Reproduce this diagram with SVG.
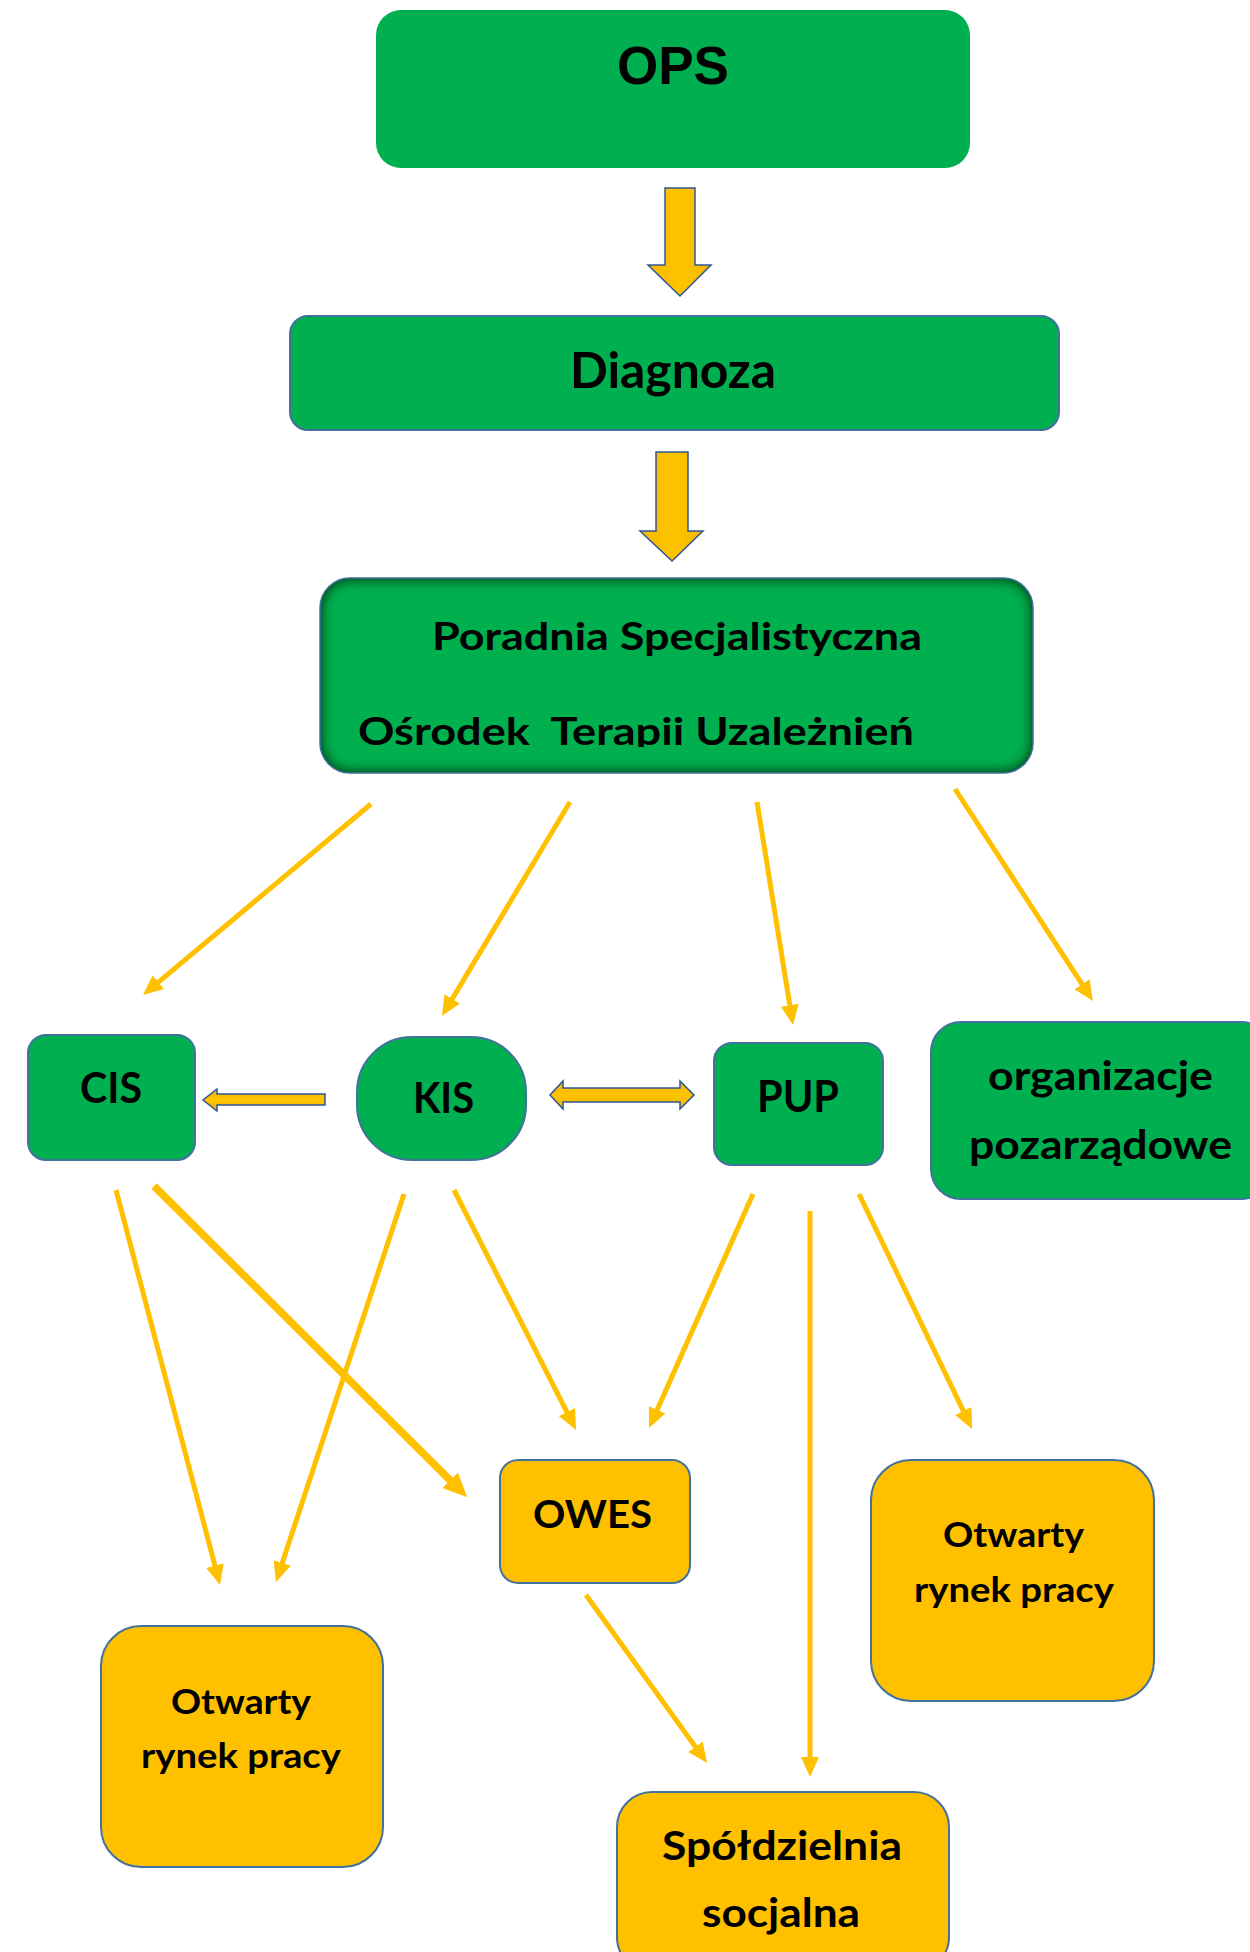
<svg xmlns="http://www.w3.org/2000/svg" width="1250" height="1952" viewBox="0 0 1250 1952">
  <style>
    .g { fill: #00B050; stroke: #41719C; stroke-width: 2; }
    .y { fill: #FFC000; stroke: #41719C; stroke-width: 2; }
    .t { font-family: Lato, "Open Sans", "Liberation Sans", sans-serif; font-weight: bold; fill: #000000; }
    .c { fill: none; stroke: #FFC000; stroke-width: 5; }
    .ct { fill: none; stroke: #FFC000; stroke-width: 7.5; }
    .ba { fill: url(#baGrad); stroke: #2F5597; stroke-width: 1.5; stroke-linejoin: miter; }
    .bah { fill: url(#baGradH); stroke: #2F5597; stroke-width: 1.5; stroke-linejoin: miter; }
  </style>
  <defs>
    <linearGradient id="baGrad" x1="0" y1="0" x2="1" y2="0">
      <stop offset="0" stop-color="#F5B800"/>
      <stop offset="0.5" stop-color="#FFC400"/>
      <stop offset="1" stop-color="#F5B800"/>
    </linearGradient>
    <linearGradient id="baGradH" x1="0" y1="0" x2="0" y2="1">
      <stop offset="0" stop-color="#F0B400"/>
      <stop offset="0.5" stop-color="#FFC400"/>
      <stop offset="1" stop-color="#F0B400"/>
    </linearGradient>
    <marker id="ah" markerUnits="userSpaceOnUse" markerWidth="22" markerHeight="20" refX="10" refY="9" orient="auto">
      <path d="M0,0 L20,9 L0,18 Z" fill="#FFC000"/>
    </marker>
    <marker id="ahT" markerUnits="userSpaceOnUse" markerWidth="26" markerHeight="24" refX="11" refY="11" orient="auto">
      <path d="M0,0 L24,11 L0,22 Z" fill="#FFC000"/>
    </marker>
    <filter id="inner" x="-5%" y="-10%" width="110%" height="120%">
      <feFlood flood-color="#003015" result="f"/>
      <feComposite in="f" in2="SourceAlpha" operator="out" result="outside"/>
      <feGaussianBlur in="outside" stdDeviation="7" result="blur"/>
      <feComposite in="blur" in2="SourceAlpha" operator="in" result="shadow"/>
      <feMerge><feMergeNode in="SourceGraphic"/><feMergeNode in="shadow"/><feMergeNode in="shadow"/></feMerge>
    </filter>
    <clipPath id="clipPor">
      <rect x="320" y="578" width="713" height="169"/>
    </clipPath>
  </defs>

  <g id="connectors">
    <!-- block arrows -->
    <path class="ba" d="M665,188 H695 V265 H711 L680,296 L648,265 H665 Z"/>
    <path class="ba" d="M656,452 H688 V531 H703 L672,561 L640,531 H656 Z"/>
    <path class="bah" d="M325,1094 H217 V1089 L203,1100 L217,1111 V1105 H325 Z"/>
    <path class="bah" d="M550,1095 L563,1081 V1088 H680 V1081 L694,1095 L680,1109 V1102 H563 V1109 Z"/>
    <!-- line arrows -->
    <line class="c" x1="371" y1="804" x2="150.7" y2="988.6" marker-end="url(#ah)"/>
    <line class="c" x1="570" y1="802" x2="447.1" y2="1007.4" marker-end="url(#ah)"/>
    <line class="c" x1="757" y1="802" x2="791.4" y2="1015.1" marker-end="url(#ah)"/>
    <line class="c" x1="955" y1="789" x2="1087.5" y2="992.6" marker-end="url(#ah)"/>
    <line class="c" x1="116" y1="1190" x2="217.5" y2="1575.3" marker-end="url(#ah)"/>
    <line class="ct" x1="154" y1="1186" x2="457.9" y2="1488" marker-end="url(#ahT)"/>
    <line class="c" x1="404" y1="1194" x2="279.1" y2="1572.5" marker-end="url(#ah)"/>
    <line class="c" x1="454" y1="1190" x2="571.5" y2="1421.1" marker-end="url(#ah)"/>
    <line class="c" x1="753" y1="1194" x2="653.1" y2="1418.9" marker-end="url(#ah)"/>
    <line class="c" x1="810" y1="1211" x2="810" y2="1767" marker-end="url(#ah)"/>
    <line class="c" x1="859" y1="1194" x2="967.7" y2="1420" marker-end="url(#ah)"/>
    <line class="c" x1="586" y1="1595" x2="701.2" y2="1754.9" marker-end="url(#ah)"/>
  </g>

  <g id="ops">
    <rect x="376" y="10" width="594" height="158" rx="25" fill="#00B050"/>
    <text x="673" y="84" text-anchor="middle" font-family="'Liberation Sans', Arial, sans-serif" font-weight="bold" font-size="53" fill="#000">OPS</text>
  </g>

  <g id="diagnoza">
    <rect class="g" x="290" y="316" width="769" height="114" rx="18"/>
    <text class="t" x="570" y="388" font-size="50" textLength="206" lengthAdjust="spacingAndGlyphs">Diagnoza</text>
  </g>

  <g id="poradnia">
    <rect x="320" y="578" width="713" height="195" rx="30" fill="#00B050" filter="url(#inner)"/>
    <rect x="320" y="578" width="713" height="195" rx="30" fill="none" stroke="#41719C" stroke-width="1.5"/>
    <text class="t" x="432" y="650" font-size="38" textLength="490" lengthAdjust="spacingAndGlyphs">Poradnia Specjalistyczna</text>
    <text class="t" x="358" y="745" font-size="38" textLength="556" lengthAdjust="spacingAndGlyphs" clip-path="url(#clipPor)" xml:space="preserve">Ośrodek  Terapii Uzależnień</text>
  </g>

  <g id="cis">
    <rect class="g" x="28" y="1035" width="167" height="125" rx="18"/>
    <text class="t" x="80" y="1103" font-size="42" textLength="62" lengthAdjust="spacingAndGlyphs">CIS</text>
  </g>

  <g id="kis">
    <rect class="g" x="357" y="1037" width="169" height="123" rx="55"/>
    <text class="t" x="413" y="1113" font-size="42" textLength="61" lengthAdjust="spacingAndGlyphs">KIS</text>
  </g>

  <g id="pup">
    <rect class="g" x="714" y="1043" width="169" height="122" rx="18"/>
    <text class="t" x="757" y="1112" font-size="43" textLength="82" lengthAdjust="spacingAndGlyphs">PUP</text>
  </g>

  <g id="organizacje">
    <rect class="g" x="931" y="1022" width="340" height="177" rx="30"/>
    <text class="t" x="988" y="1090" font-size="41" textLength="225" lengthAdjust="spacingAndGlyphs">organizacje</text>
    <text class="t" x="969" y="1159" font-size="41" textLength="263" lengthAdjust="spacingAndGlyphs">pozarządowe</text>
  </g>

  <g id="owes">
    <rect class="y" x="500" y="1460" width="190" height="123" rx="18"/>
    <text class="t" x="533" y="1528" font-size="39" textLength="119" lengthAdjust="spacingAndGlyphs">OWES</text>
  </g>

  <g id="otwarty-left">
    <rect class="y" x="101" y="1626" width="282" height="241" rx="40"/>
    <text class="t" x="171" y="1714" font-size="35" textLength="140" lengthAdjust="spacingAndGlyphs">Otwarty</text>
    <text class="t" x="141" y="1768" font-size="35" textLength="200" lengthAdjust="spacingAndGlyphs">rynek pracy</text>
  </g>

  <g id="otwarty-right">
    <rect class="y" x="871" y="1460" width="283" height="241" rx="40"/>
    <text class="t" x="943" y="1547" font-size="35" textLength="141" lengthAdjust="spacingAndGlyphs">Otwarty</text>
    <text class="t" x="914" y="1602" font-size="35" textLength="200" lengthAdjust="spacingAndGlyphs">rynek pracy</text>
  </g>

  <g id="spoldzielnia">
    <rect class="y" x="617" y="1792" width="332" height="180" rx="35"/>
    <text class="t" x="662" y="1860" font-size="40" textLength="240" lengthAdjust="spacingAndGlyphs">Spółdzielnia</text>
    <text class="t" x="702" y="1927" font-size="40" textLength="158" lengthAdjust="spacingAndGlyphs">socjalna</text>
  </g>
</svg>
